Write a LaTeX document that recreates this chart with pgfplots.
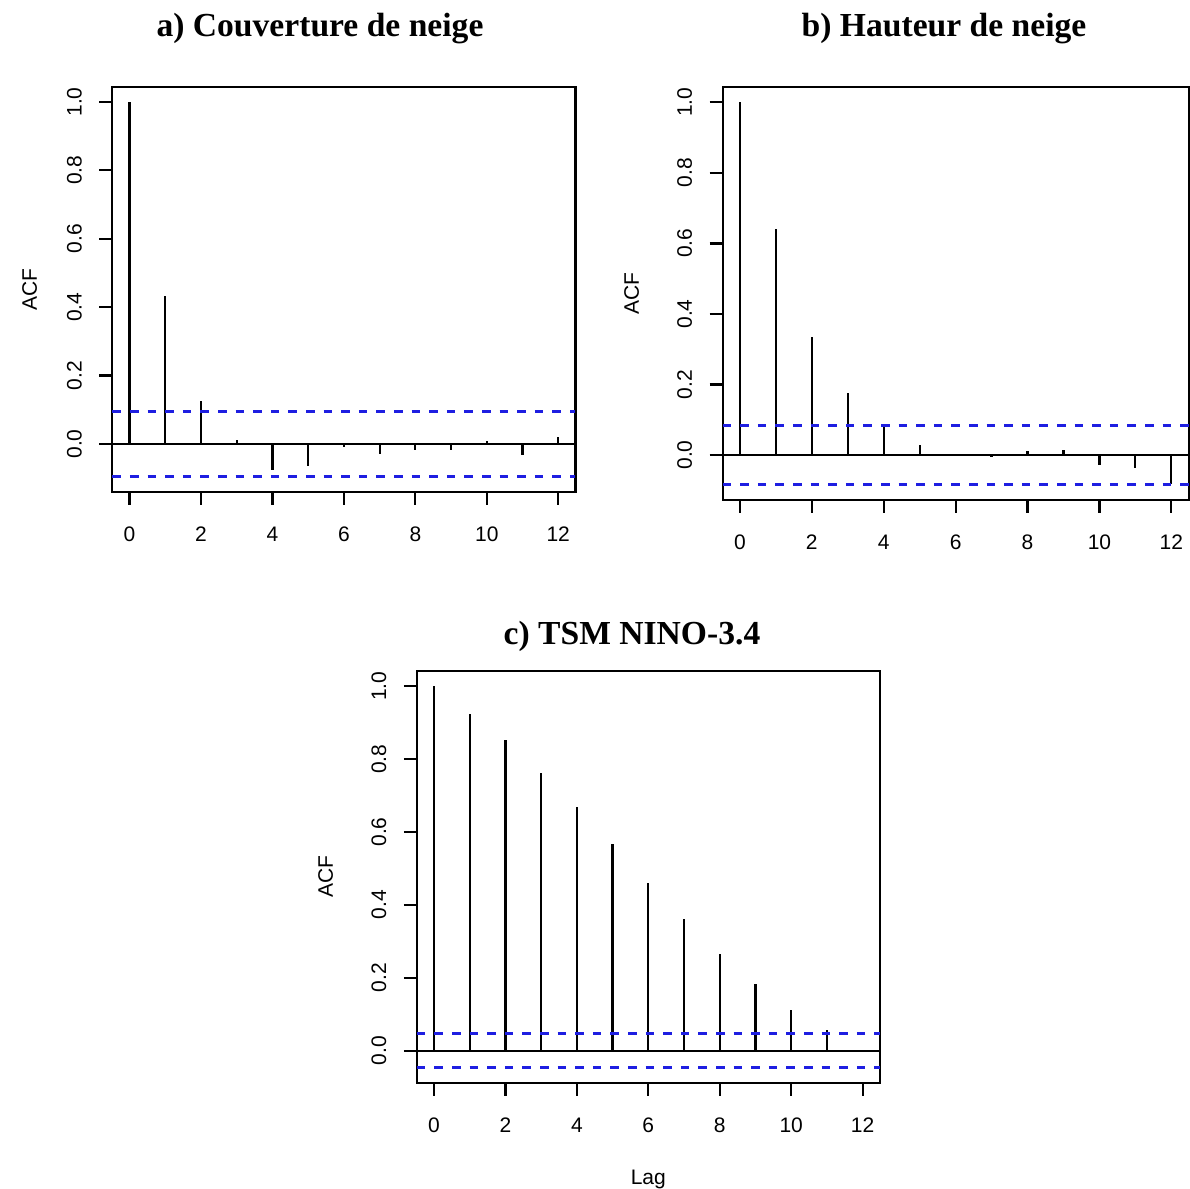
\documentclass[border=0pt]{standalone}
\usepackage{fontspec}
\setmainfont{Liberation Sans}
\newfontfamily\titlefont{Liberation Serif}
\usepackage{pgfplots}
\pgfplotsset{compat=1.18}

\definecolor{ciblue}{RGB}{30,30,225}

\pgfplotsset{
  acf/.style={
    scale only axis,
    clip=false,
    axis line style={line width=1.1pt},
    xmin=-0.48, xmax=12.48,
    xtick={0,2,4,6,8,10,12},
    ytick={0,0.2,0.4,0.6,0.8,1},
    xtick pos=bottom, ytick pos=left,
    tick align=outside,
    major tick length=6.5pt,
    every tick/.style={black, line width=1.1pt},
    tick label style={font=\fontsize{10.5}{12}\selectfont},
    label style={font=\fontsize{10.5}{12}\selectfont},
    /pgf/number format/assume math mode=true,
    yticklabel style={xshift=-12.5pt, rotate=90, anchor=center,
      /pgf/number format/fixed, /pgf/number format/fixed zerofill,
      /pgf/number format/precision=1},
    xticklabel style={anchor=center, yshift=-14.5pt},
    ylabel={ACF},
  },
  spike/.style={ycomb, black, line width=1.1pt, no marks},
  zero/.style={black, line width=1.1pt, no marks},
  ci/.style={ciblue, line width=1.4pt, no marks, dash pattern=on 4.3pt off 4.5pt},
}

\begin{document}
\begin{tikzpicture}
\path[use as bounding box] (0,0) rectangle (595pt,594.5pt);

% a) snow cover
\begin{axis}[acf, at={(56.2pt,348.5pt)}, anchor=south west,
    width=231.5pt, height=202.5pt,
    ymin=-0.1405, ymax=1.0439,
    ylabel style={at={(axis description cs:-0.179,0.5)}, anchor=center}]
  \addplot[zero] coordinates {(-0.48,0) (12.48,0)};
  \addplot[spike] coordinates {
    (0,1.0) (1,0.432) (2,0.126) (3,0.011) (4,-0.077) (5,-0.064) (6,-0.008)
    (7,-0.028) (8,-0.018) (9,-0.018) (10,0.008) (11,-0.033) (12,0.021)};
  \addplot[ci] coordinates {(-0.48,0.096) (12.48,0.096)};
  \addplot[ci] coordinates {(-0.48,-0.096) (12.48,-0.096)};
\end{axis}

% b) snow depth
\begin{axis}[acf, at={(361.3pt,344.5pt)}, anchor=south west,
    width=233pt, height=206.5pt,
    ymin=-0.1274, ymax=1.0434,
    ylabel style={at={(axis description cs:-0.195,0.5)}, anchor=center}]
  \addplot[zero] coordinates {(-0.48,0) (12.48,0)};
  \addplot[spike] coordinates {
    (0,1.0) (1,0.641) (2,0.335) (3,0.175) (4,0.084) (5,0.028) (6,0.002)
    (7,-0.005) (8,0.011) (9,0.015) (10,-0.029) (11,-0.038) (12,-0.083)};
  \addplot[ci] coordinates {(-0.48,0.084) (12.48,0.084)};
  \addplot[ci] coordinates {(-0.48,-0.084) (12.48,-0.084)};
\end{axis}

% c) SST NINO-3.4
\begin{axis}[acf, at={(208.4pt,53pt)}, anchor=south west,
    width=231.5pt, height=206pt,
    ymin=-0.0889, ymax=1.0419,
    xlabel={Lag},
    xlabel style={at={(axis description cs:0.5,-0.235)}, anchor=center},
    ylabel style={at={(axis description cs:-0.197,0.5)}, anchor=center}]
  \addplot[zero] coordinates {(-0.48,0) (12.48,0)};
  \addplot[spike] coordinates {
    (0,1.0) (1,0.924) (2,0.853) (3,0.762) (4,0.669) (5,0.566) (6,0.461)
    (7,0.360) (8,0.265) (9,0.184) (10,0.111) (11,0.057) (12,0.003)};
  \addplot[ci] coordinates {(-0.48,0.047) (12.48,0.047)};
  \addplot[ci] coordinates {(-0.48,-0.047) (12.48,-0.047)};
\end{axis}

\node[font=\titlefont\bfseries\fontsize{16.8}{19}\selectfont] at (160pt,580pt) {a) Couverture de neige};
\node[font=\titlefont\bfseries\fontsize{16.8}{19}\selectfont] at (472pt,580pt) {b) Hauteur de neige};
\node[font=\titlefont\bfseries\fontsize{16.8}{19}\selectfont] at (316pt,276.5pt) {c) TSM NINO-3.4};
\end{tikzpicture}
\end{document}
